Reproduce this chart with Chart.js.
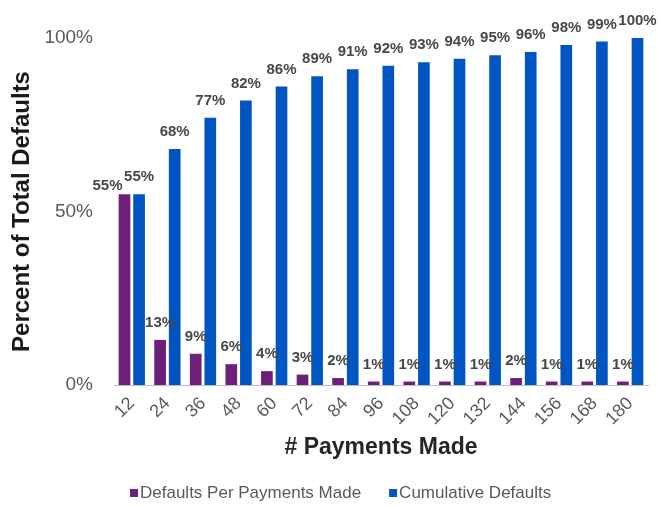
<!DOCTYPE html>
<html>
<head>
<meta charset="utf-8">
<script src="https://cdn.jsdelivr.net/npm/chart.js@4.4.1/dist/chart.umd.min.js"></script>
<style>
  html, body { margin: 0; padding: 0; background: #ffffff; }
  #wrap { width: 658px; height: 507px; position: relative; }
</style>
</head>
<body>
<div id="wrap"><canvas id="chart" width="658" height="507"></canvas></div>
<script>
// Payment counts (months) on the x axis
const paymentsMade = ['12', '24', '36', '48', '60', '72', '84', '96', '108', '120', '132', '144', '156', '168', '180'];
// Share of total defaults occurring in each payment bucket (%)
const defaultsPerPayments = [55, 13, 9, 6, 4, 3, 2, 1, 1, 1, 1, 2, 1, 1, 1];
// Running total of defaults (%)
const cumulativeDefaults = [55, 68, 77, 82, 86, 89, 91, 92, 93, 94, 95, 96, 98, 99, 100];
// Y axis ticks
const yTicks = [0, 50, 100];

const FONT = "'Liberation Sans', Arial, sans-serif";
const PURPLE = '#6E1F7C';
const BLUE = '#0055C2';

// Value labels above each bar
const valueLabels = {
  id: 'valueLabels',
  afterDatasetsDraw(chart) {
    const ctx = chart.ctx;
    ctx.save();
    ctx.font = 'bold 15px ' + FONT;
    ctx.fillStyle = '#474747';
    ctx.textAlign = 'center';
    ctx.textBaseline = 'middle';
    const m0 = chart.getDatasetMeta(0);
    const m1 = chart.getDatasetMeta(1);
    chart.data.datasets.forEach((ds, di) => {
      const meta = chart.getDatasetMeta(di);
      meta.data.forEach((el, i) => {
        let x = el.x, y = el.y - 17;
        // When the two bars of a group share the same height, move the
        // per-bucket label aside so both labels stay readable
        if (di === 0 && Math.abs(m0.data[i].y - m1.data[i].y) < 15) {
          x -= 17;
          y += 9;
        }
        ctx.fillText(ds.data[i] + '%', x, y);
      });
    });
    ctx.restore();
  }
};

// Legend row under the axis title
const bottomLegend = {
  id: 'bottomLegend',
  afterDraw(chart) {
    const ctx = chart.ctx;
    ctx.save();
    ctx.font = '17px ' + FONT;
    ctx.textBaseline = 'middle';
    ctx.textAlign = 'left';
    const cy = 493;
    let x = 130;
    chart.data.datasets.forEach((ds) => {
      ctx.fillStyle = ds.backgroundColor;
      ctx.fillRect(x, cy - 4, 8, 8);
      x += 10;
      ctx.fillStyle = '#595959';
      ctx.fillText(ds.label, x, cy);
      x += ctx.measureText(ds.label).width + 28;
    });
    ctx.restore();
  }
};

new Chart(document.getElementById('chart'), {
  type: 'bar',
  data: {
    labels: paymentsMade,
    datasets: [
      { label: 'Defaults Per Payments Made', data: defaultsPerPayments, backgroundColor: PURPLE },
      { label: 'Cumulative Defaults', data: cumulativeDefaults, backgroundColor: BLUE }
    ]
  },
  options: {
    responsive: false,
    animation: false,
    devicePixelRatio: 1,
    layout: { padding: { top: 38, right: 10, bottom: 42, left: 0 } },
    datasets: { bar: { categoryPercentage: 0.82, barPercentage: 0.8 } },
    plugins: {
      legend: { display: false },
      tooltip: { enabled: false }
    },
    scales: {
      x: {
        grid: { display: false, drawTicks: false },
        border: { display: true, color: '#bfbfbf', width: 1 },
        ticks: {
          color: '#595959',
          font: { family: FONT, size: 18 },
          minRotation: 45,
          maxRotation: 45,
          autoSkip: false,
          padding: 8
        },
        title: {
          display: true,
          text: '# Payments Made',
          color: '#262626',
          font: { family: FONT, size: 23, weight: 'bold', lineHeight: 1.2 },
          padding: { top: 0, bottom: 4 }
        },
        afterFit(scale) { scale.height = 80; }
      },
      y: {
        min: 0,
        max: 100,
        grid: { display: false, drawTicks: false },
        border: { display: false },
        afterBuildTicks(scale) { scale.ticks = yTicks.map(v => ({ value: v })); },
        ticks: {
          color: '#595959',
          font: { family: FONT, size: 19 },
          padding: 21,
          callback: (v) => v + '%'
        },
        title: {
          display: true,
          text: 'Percent of Total Defaults',
          color: '#1a1a1a',
          font: { family: FONT, size: 24, weight: 'bold', lineHeight: 1.2 },
          padding: { top: 8, bottom: 0 }
        },
        afterFit(scale) { scale.width = 114; }
      }
    }
  },
  plugins: [valueLabels, bottomLegend]
});
</script>
</body>
</html>
